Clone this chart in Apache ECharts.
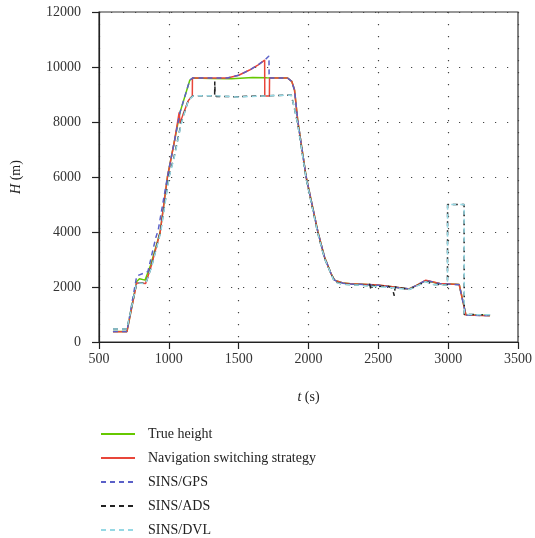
<!DOCTYPE html>
<html>
<head>
<meta charset="utf-8">
<script src="https://cdn.jsdelivr.net/npm/echarts@6/dist/echarts.min.js"></script>
<style>
html, body { margin: 0; padding: 0; background: #fff; }
#container { width: 535px; height: 538px; }
</style>
</head>
<body>
<div id="container"></div>
<script>
var dom = document.getElementById("container");
var myChart = echarts.init(dom);

var seriesNames = ['True height', 'Navigation switching strategy', 'SINS/GPS', 'SINS/ADS', 'SINS/DVL'];
var colorList = ['#66c800', '#e8463a', '#5a60c8', '#222222', '#96d8e4'];
var xTicks = [500, 3500, 500];
var yTicks = [0, 12000, 2000];
var labelFont = 'Liberation Serif';

// [t (s), H (m)]
var trueHeight = [
	[600, 380], [700, 380], [770, 2200], [790, 2300], [830, 2250], [870, 2800], [938, 4000],
	[990, 6000], [1040, 7300], [1080, 8350], [1150, 9520], [1175, 9600], [1300, 9580],
	[1450, 9570], [1600, 9620], [1700, 9610], [1850, 9600], [1880, 9480], [1900, 9160],
	[1924, 8010], [1983, 6010], [2067, 4010], [2114, 3100], [2160, 2500], [2186, 2250],
	[2245, 2150], [2300, 2120], [2390, 2100], [2500, 2060], [2600, 2010], [2720, 1930],
	[2770, 2050], [2840, 2230], [2940, 2130], [3079, 2090], [3127, 990], [3300, 960]
];
var navSwitch = [
	[600, 370], [700, 370], [770, 2150], [834, 2130], [876, 2800], [938, 4000],
	[990, 6000], [1040, 7300], [1074, 8350], [1080, 7950], [1100, 8250], [1140, 8780],
	[1168, 8950], [1169, 9600], [1420, 9600], [1500, 9700], [1578, 9890], [1640, 10080],
	[1686, 10250], [1687, 8950], [1720, 8950], [1721, 9600], [1850, 9600], [1880, 9480],
	[1900, 9160], [1924, 8010], [1983, 6010], [2067, 4010], [2114, 3100], [2160, 2500],
	[2186, 2250], [2245, 2150], [2300, 2120], [2390, 2100], [2500, 2070], [2600, 2010],
	[2720, 1930], [2770, 2050], [2840, 2250], [2940, 2130], [3079, 2090], [3127, 980], [3300, 950]
];
var sinsGps = [
	[600, 380], [700, 380], [770, 2400], [850, 2560], [907, 3800], [924, 4070],
	[990, 6000], [1040, 7300], [1080, 8350], [1150, 9520], [1170, 9600], [1420, 9600],
	[1500, 9700], [1578, 9890], [1640, 10080], [1686, 10250], [1717, 10400], [1718, 9600],
	[1850, 9600], [1880, 9480], [1900, 9160], [1924, 8010], [1983, 6010], [2067, 4010],
	[2114, 3100], [2160, 2500], [2186, 2250], [2245, 2140], [2300, 2110], [2390, 2090],
	[2500, 2060], [2600, 2000], [2720, 1930], [2770, 2050], [2840, 2240], [2940, 2120],
	[3079, 2080], [3127, 980], [3300, 960]
];
var sinsAds = [
	[600, 470], [700, 470], [770, 2150], [834, 2130], [876, 2750], [940, 4000],
	[1000, 6000], [1038, 6740], [1090, 8000], [1140, 8800], [1174, 8956], [1328, 8950],
	[1329, 9470], [1331, 9040], [1340, 8930], [1484, 8920], [1700, 8955], [1876, 8980],
	[1895, 8600], [1924, 7900], [1983, 5950], [2067, 3950], [2114, 3050], [2186, 2200],
	[2245, 2100], [2350, 2080], [2420, 2050], [2435, 2160], [2448, 1890], [2460, 2060],
	[2500, 2010], [2560, 2050], [2600, 1960], [2614, 1680], [2620, 2000], [2720, 1910],
	[2770, 2030], [2840, 2200], [2900, 2090], [2995, 2080], [2996, 5000], [3114, 5000],
	[3115, 1000], [3300, 990]
];
var sinsDvl = [
	[600, 470], [700, 470], [770, 2150], [834, 2120], [876, 2720], [942, 4000],
	[1002, 6000], [1040, 6740], [1092, 8000], [1140, 8790], [1176, 8956], [1340, 8950],
	[1484, 8910], [1700, 8950], [1876, 8980], [1895, 8600], [1924, 7900], [1983, 5950],
	[2067, 3950], [2114, 3050], [2186, 2180], [2245, 2090], [2350, 2070], [2500, 2010],
	[2600, 1970], [2720, 1910], [2770, 2020], [2840, 2190], [2900, 2080], [2995, 2070],
	[2996, 5000], [3114, 5000], [3115, 1000], [3300, 990]
];

var seriesData = [trueHeight, navSwitch, sinsGps, sinsAds, sinsDvl];
var lineTypes = ['solid', 'solid', [5, 4], [5, 4], [5, 4]];

var series = seriesData.map(function (d, i) {
	return {
		name: seriesNames[i],
		type: 'line',
		data: d,
		symbol: 'none',
		animation: false,
		lineStyle: { color: colorList[i], width: 1.5, type: lineTypes[i] },
		itemStyle: { color: colorList[i] }
	};
});

var splitStyle = { show: true, lineStyle: { color: '#444', width: 1.2, type: [1.2, 10.8] } };
var plainNum = function (v) { return String(v); };

var option = {
	animation: false,
	color: colorList,
	textStyle: { fontFamily: labelFont },
	grid: {
		left: 99, right: 16, top: 12, bottom: 196,
		show: true, borderColor: '#333', borderWidth: 1.2, backgroundColor: 'transparent'
	},
	legend: {
		orient: 'vertical',
		left: 100,
		top: 427,
		padding: 0,
		itemWidth: 34,
		itemHeight: 12,
		itemGap: 10,
		itemStyle: { opacity: 0 },
		data: seriesNames,
		textStyle: { fontFamily: labelFont, fontSize: 14, color: '#222', padding: [0, 0, 0, 8] }
	},
	xAxis: {
		type: 'value',
		min: xTicks[0], max: xTicks[1], interval: xTicks[2],
		name: '{i|t} (s)',
		nameLocation: 'middle',
		nameGap: 48,
		nameTextStyle: {
			fontFamily: labelFont, fontSize: 14, color: '#222',
			rich: { i: { fontFamily: labelFont, fontStyle: 'italic', fontSize: 14, color: '#222' } }
		},
		axisLine: { show: true, lineStyle: { color: '#222', width: 1.2 } },
		axisTick: { show: true, inside: false, length: 7, lineStyle: { color: '#222', width: 1.2 } },
		axisLabel: { fontFamily: labelFont, fontSize: 14, color: '#333', margin: 10, formatter: plainNum },
		splitLine: splitStyle
	},
	yAxis: {
		type: 'value',
		min: yTicks[0], max: yTicks[1], interval: yTicks[2],
		name: '{i|H} (m)',
		nameLocation: 'middle',
		nameRotate: 90,
		nameGap: 76,
		nameTextStyle: {
			fontFamily: labelFont, fontSize: 14, color: '#222',
			rich: { i: { fontFamily: labelFont, fontStyle: 'italic', fontSize: 14, color: '#222' } }
		},
		axisLine: { show: true, lineStyle: { color: '#222', width: 1.2 } },
		axisTick: { show: true, inside: false, length: 7, lineStyle: { color: '#222', width: 1.2 } },
		axisLabel: { fontFamily: labelFont, fontSize: 14, color: '#333', margin: 18, formatter: plainNum },
		splitLine: splitStyle
	},
	series: series
};

myChart.setOption(option);
</script>
</body>
</html>
